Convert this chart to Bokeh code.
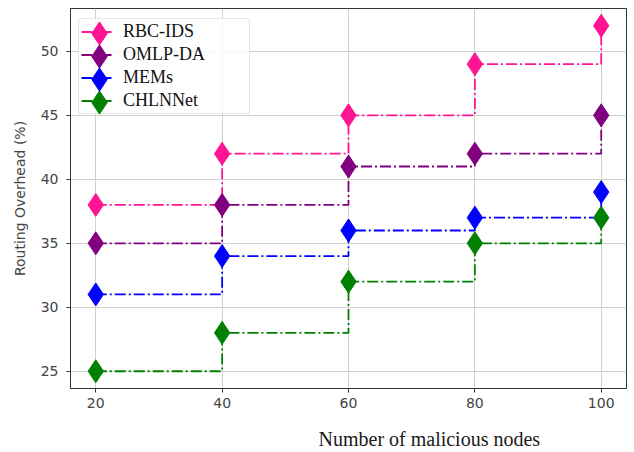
from bokeh.plotting import figure
from bokeh.models import Range1d, FixedTicker, Legend, LegendItem, Title
from bokeh.core.properties import value
from bokeh.embed import file_html
from bokeh.resources import INLINE

# ---- data ----
nodes = [20, 40, 60, 80, 100]
rbc_ids = [38, 42, 45, 49, 52]
omlp_da = [35, 38, 41, 42, 45]
mems = [31, 34, 36, 37, 39]
chlnnet = [25, 28, 32, 35, 37]
series_names = ["RBC-IDS", "OMLP-DA", "MEMs", "CHLNNet"]
series_values = [rbc_ids, omlp_da, mems, chlnnet]
series_colors = ["#ff1493", "#800080", "#0000ff", "#008000"]
x_ticks = [20, 40, 60, 80, 100]
y_ticks = [25, 30, 35, 40, 45, 50]

FRAME_H = 380          # frame height in px (452 - 8 - 64)
p = figure(width=634, height=452, output_backend="svg", toolbar_location=None,
           x_range=Range1d(16, 104), y_range=Range1d(23.65, 53.35),
           min_border_left=70, min_border_right=8, min_border_top=8,
           min_border_bottom=64)
p.background_fill_color = "white"
p.border_fill_color = "white"
p.outline_line_color = "#333333"
p.outline_line_width = 1

for ax in (p.xaxis[0], p.yaxis[0]):
    ax.axis_line_color = "#333333"
    ax.major_tick_line_color = "#333333"
    ax.major_tick_in = 0
    ax.major_tick_out = 4
    ax.minor_tick_in = 0
    ax.minor_tick_out = 0
    ax.major_label_text_font = "DejaVu Sans"
    ax.major_label_text_font_size = "14px"
    ax.major_label_text_color = "#444444"

p.xaxis.ticker = FixedTicker(ticks=x_ticks)
p.yaxis.ticker = FixedTicker(ticks=y_ticks)
p.xaxis.major_label_standoff = 5
p.yaxis.major_label_standoff = 8
# blank spacer label so the x title sits lower
p.xaxis.axis_label = " "
p.xaxis.axis_label_text_font_size = "8px"
p.xaxis.axis_label_standoff = 3

p.yaxis.axis_label = "Routing Overhead (%)"
p.yaxis.axis_label_text_font = "DejaVu Sans"
p.yaxis.axis_label_text_font_size = "14px"
p.yaxis.axis_label_text_font_style = "normal"
p.yaxis.axis_label_text_color = "#444444"
p.yaxis.axis_label_standoff = 10

p.xgrid.grid_line_color = "#d0d0d0"
p.ygrid.grid_line_color = "#d0d0d0"
p.xgrid.grid_line_width = 1
p.ygrid.grid_line_width = 1

line_rs = []
dot_rs = []
for name, vals, col in zip(series_names, series_values, series_colors):
    lr = p.step(nodes, vals, mode="after", line_color=col, line_width=1.8,
                line_dash="11 3 2 3")
    sr = p.scatter(nodes, vals, marker="diamond", size=23,
                   fill_color=col, line_color=col)
    line_rs.append(lr)
    dot_rs.append(sr)

# legend box with lines and labels
LEG_TOP = 12      # px below the frame top
LEG_PAD = 2
ROW_H = 21
ROW_GAP = 2
n_rows = len(series_names)
leg_h = n_rows * ROW_H + (n_rows - 1) * ROW_GAP + 2 * LEG_PAD
legend_lines = Legend(
    items=[LegendItem(label=value(n), renderers=[r]) for n, r in zip(series_names, line_rs)],
    location=(8, FRAME_H - LEG_TOP - leg_h), margin=0, padding=LEG_PAD, spacing=ROW_GAP,
    glyph_width=32, glyph_height=ROW_H, label_height=ROW_H, label_width=124,
    label_standoff=10, label_text_font="Liberation Serif",
    label_text_font_size="18px", label_text_color="#111111",
    border_line_color="#cccccc", border_line_width=1, border_radius=3,
    background_fill_color="white", background_fill_alpha=0.85,
)
p.add_layout(legend_lines)

# big diamond markers in the legend (one small legend per row)
MARK_BOX = 58
for k, r in enumerate(dot_rs):
    center = LEG_TOP + LEG_PAD + ROW_H / 2 + k * (ROW_H + ROW_GAP)
    bottom = center + MARK_BOX / 2
    lm = Legend(
        items=[LegendItem(label=value(" "), renderers=[r])],
        location=(0, FRAME_H - bottom), margin=0, padding=0,
        glyph_width=MARK_BOX, glyph_height=MARK_BOX, label_height=0, label_width=0,
        label_standoff=0, label_text_alpha=0, label_text_font_size="10px",
        border_line_alpha=0, background_fill_alpha=0,
    )
    p.add_layout(lm)

xtitle = Title(text="Number of malicious nodes", align="left", offset=248,
               vertical_align="bottom", standoff=0,
               text_font="Liberation Serif", text_font_size="20px",
               text_font_style="normal", text_color="#1a1a1a")
p.add_layout(xtitle, "below")

open("out.html", "w").write(file_html(p, INLINE))
